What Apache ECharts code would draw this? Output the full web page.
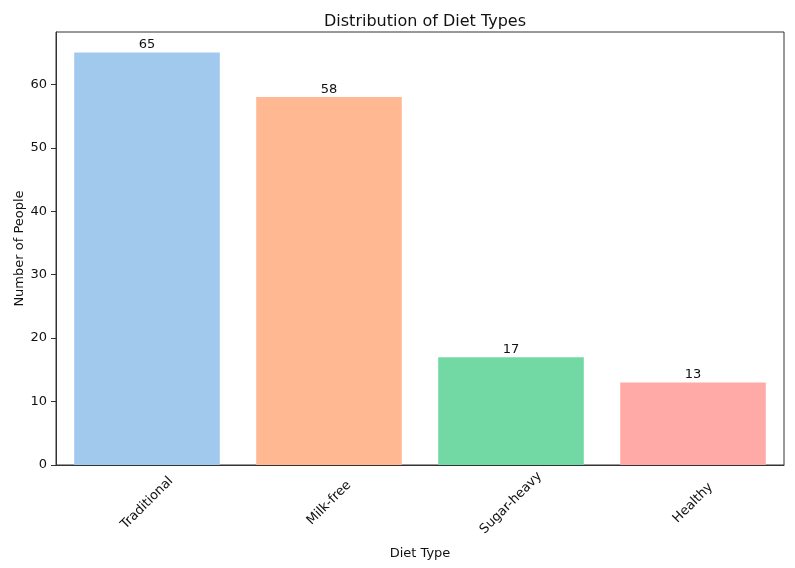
<!DOCTYPE html>
<html>
<head>
<meta charset="utf-8">
<script src="https://cdn.jsdelivr.net/npm/echarts@6/dist/echarts.min.js"></script>
<style>html,body{margin:0;padding:0;background:#fff;}#c{width:795px;height:568px;}</style>
</head>
<body>
<div id="c"></div>
<script>
const categories = ["Traditional", "Milk-free", "Sugar-heavy", "Healthy"];
const values = [65, 58, 17, 13];
const barColors = ["#A0C9ED", "#FFB891", "#72D9A5", "#FFAAA7"];
const yTicks = [0, 10, 20, 30, 40, 50, 60];

const font = "DejaVu Sans";
const chart = echarts.init(document.getElementById('c'), null, {renderer: 'canvas'});
chart.setOption({
  animation: false,
  title: {
    text: "Distribution of Diet Types",
    left: 420, top: 9, textAlign: 'center',
    textStyle: {fontFamily: font, fontSize: 16, fontWeight: 'normal', color: '#111'}
  },
  grid: {left: 56, right: 11, top: 32, bottom: 103, containLabel: false, outerBoundsMode: 'none', show: true, borderColor: '#333', borderWidth: 1, backgroundColor: 'transparent'},
  xAxis: {
    type: 'category',
    data: categories,
    name: "Diet Type",
    nameLocation: 'middle',
    nameGap: 82,
    nameMoveOverlap: false,
    nameTextStyle: {fontFamily: font, fontSize: 13, color: '#111'},
    axisLine: {lineStyle: {color: '#333', width: 1}},
    axisTick: {alignWithLabel: true, length: 5, lineStyle: {color: '#333'}},
    axisLabel: {rotate: 45, align: 'center', verticalAlign: 'middle', margin: 38, fontFamily: font, fontSize: 13, color: '#111', interval: 0}
  },
  yAxis: {
    type: 'value',
    min: 0, max: 68.25, interval: 10,
    name: "Number of People",
    nameLocation: 'middle',
    nameGap: 30,
    nameMoveOverlap: false,
    nameTextStyle: {fontFamily: font, fontSize: 13, color: '#111'},
    axisLine: {show: true, lineStyle: {color: '#333', width: 1}},
    axisTick: {show: true, length: 5, lineStyle: {color: '#333'}, customValues: yTicks},
    axisLabel: {margin: 9, fontFamily: font, fontSize: 13, color: '#111', customValues: yTicks},
    splitLine: {show: false}
  },
  series: [{
    type: 'bar',
    barWidth: '80%',
    data: values.map((v, i) => ({value: v, itemStyle: {color: barColors[i]}})),
    label: {show: true, position: 'top', distance: 1, fontFamily: font, fontSize: 13, color: '#111'}
  }]
});
</script>
</body>
</html>
